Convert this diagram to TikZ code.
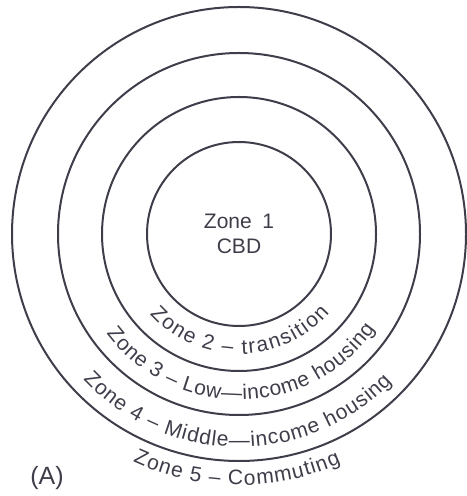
\documentclass[tikz,border=0pt]{standalone}
\usepackage{fontspec}
\setmainfont{Liberation Sans}
\usetikzlibrary{decorations.text}
\definecolor{ink}{RGB}{62,62,74}
\newcommand\zonefont{\fontsize{10.5}{12.5}\selectfont}
\tikzset{
  ring/.style={draw=ink, line width=1pt},
  zonetext/.style={decorate, decoration={text along path, text align=fit to path,
    text color=ink, text={|\zonefont|#1}}}
}
\begin{document}
\begin{tikzpicture}[x=0.5pt,y=0.5pt]
      \useasboundingbox (-239,-262) rectangle (227,234);
      \coordinate (c) at (0,0);
      % rings
      \foreach \r in {92,137,181,227}
        \draw[ring] (c) circle[radius=\r];
      % centre
      \node[font=\zonefont, align=center, text=ink] (cbd) at (c) {Zone\enspace 1\\CBD};
      % zone labels along the rings
      \path[zonetext={Zone 2 – transition}] (c) ++(222:120) arc[start angle=222, end angle=319, radius=120];
      \path[zonetext={Zone 3 – Low—income housing}] (c) ++(217:166) arc[start angle=217, end angle=325, radius=166];
      \path[zonetext={Zone 4 – Middle—income housing}] (c) ++(223:213) arc[start angle=223, end angle=316, radius=213];
      \path[zonetext={Zone 5 – Commuting}] (c) ++(245:251) arc[start angle=245, end angle=294, radius=251];
      % panel letter
      \node[font=\fontsize{12.5}{15}\selectfont, text=ink] (panel) at (-192,-244) {(A)};
\end{tikzpicture}
\end{document}
